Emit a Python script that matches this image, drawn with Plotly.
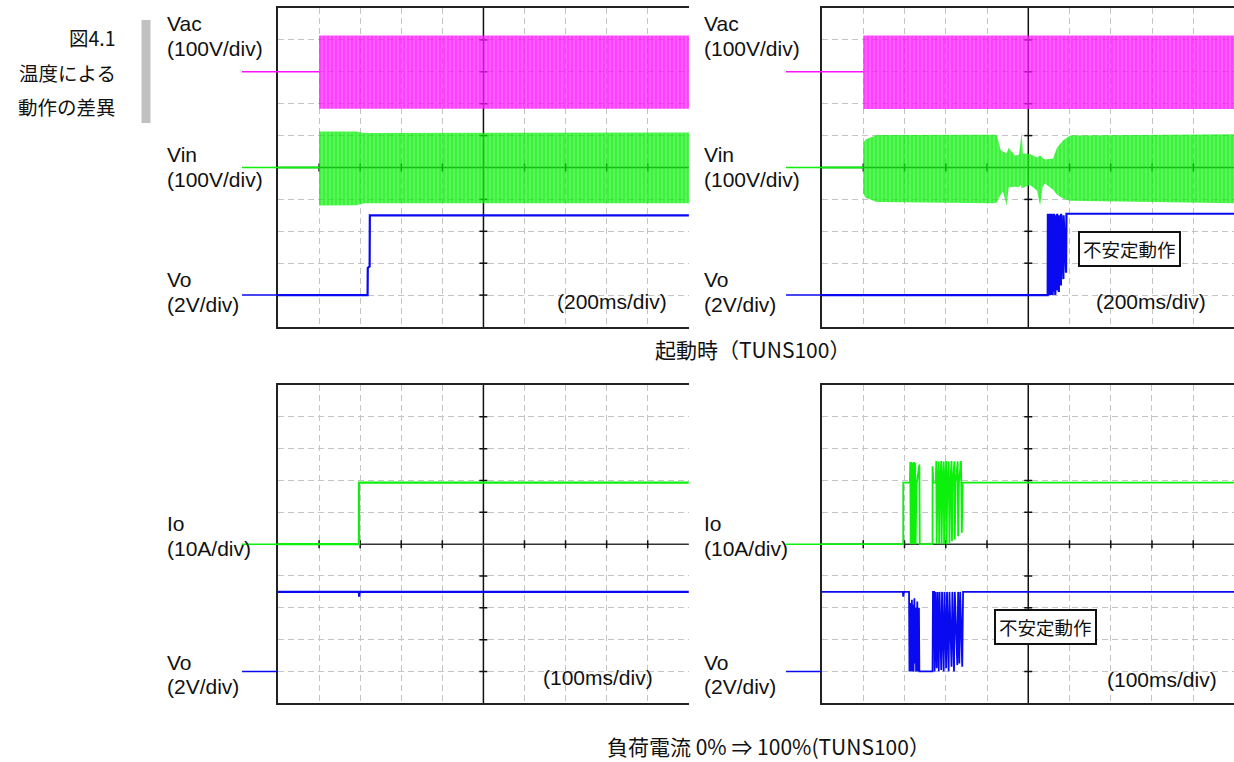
import plotly.graph_objects as go

W, H = 1234, 762

# ---------------- waveform data ----------------
# Start-up (200 ms/div), normal case
vac1_off_t = [0, 200]
vac1_off_v = [0, 0]
vac1_env_t = [200, 2000]
vac1_env_hi = [114, 114]
vac1_env_lo = [-116, -116]

vin1_off_t = [0, 200]
vin1_off_v = [0, 0]
vin1_env_t = [200, 380, 420, 2000]
vin1_env_hi = [113, 113, 108, 110]
vin1_env_lo = [-119, -118, -112, -112]

vo1_t = [0, 436, 437, 446, 447, 2000]
vo1_v = [0, 0, 1.7, 1.8, 5.0, 5.0]

# Start-up (200 ms/div), unstable case
vac2_off_t = [0, 200]
vac2_off_v = [0, 0]
vac2_env_t = [200, 2000]
vac2_env_hi = [114, 114]
vac2_env_lo = [-117, -117]

vin2_off_t = [0, 200]
vin2_off_v = [0, 0]
vin2_env_t = [200, 210, 266, 829, 848, 866, 877, 895, 905, 935, 955, 962, 968, 974,
              1008, 1042, 1057, 1070, 1081, 1120, 1139, 1168, 1202, 2000]
vin2_env_hi = [75, 88, 102, 103, 100, 55, 50, 45, 62, 38, 40, 70, 110, 44,
               42, 31, 38, 30, 25, 28, 62, 85, 100, 104]
vin2_env_lo = [-80, -95, -108, -112, -110, -85, -75, -119, -62, -60, -62, -55, -65, -63,
               -55, -72, -119, -60, -50, -70, -85, -97, -104, -112]

vo2_t = [0, 1094, 1095, 1097, 1098, 1100, 1101, 1103, 1104, 1106, 1107, 1109, 1110, 1113,
         1114, 1118, 1119, 1124, 1125, 1131, 1132, 1139, 1140, 1148, 1149, 1158, 1159,
         1170, 1171, 1183, 1185, 2000]
vo2_v = [0, 0, 5.1, 0, 5.0, 0.1, 5.1, 0, 5.0, 0.1, 5.1, 0, 5.0, 0.1,
         5.1, 0, 5.0, 0.2, 5.1, 0, 5.0, 0.3, 5.1, 0.2, 5.0, 0.6, 5.1,
         1.0, 5.0, 1.4, 5.1, 5.1]

# Load step 0% -> 100% (100 ms/div), normal case
io3_t = [0, 197, 197, 1000]
io3_v = [0, 0, 19.3, 19.3]
vo3_t = [0, 197, 197.5, 199, 1000]
vo3_v = [5.0, 5.0, 4.7, 5.0, 5.0]

# Load step 0% -> 100% (100 ms/div), unstable case
io4_t = [0, 197, 197, 213, 214, 215, 217, 218, 220, 221, 223, 224, 226, 227, 229, 230, 236,
         237, 241, 268, 268, 270, 276, 277, 278, 280, 283, 284, 286, 289, 290, 292, 295,
         296, 298, 301, 302, 304, 307, 309, 311, 314, 315, 317, 321, 322, 324, 329, 330,
         332, 337, 339, 341, 1000]
io4_v = [0, 0, 19.3, 19.3, 25.8, 0, 25.8, 0.2, 25.5, 0, 25.8, 0, 25.6, 0, 19.3, 19.3, 25.0,
         0, 0, 0, 24.5, 19.3, 19.3, 26.1, 0, 19.3, 26.0, 0, 19.3, 26.1, 0, 19.3, 26.0,
         0, 19.3, 26.1, 0, 19.3, 26.0, 0.4, 19.3, 26.1, 0.9, 19.3, 26.0, 1.5, 19.3, 26.0, 2.5,
         19.3, 26.1, 3.6, 19.3, 19.3]
vo4_t = [0, 196, 197, 199, 211, 212, 215, 216, 218, 219, 221, 222, 224, 225, 227, 228, 231,
         232, 235, 236, 241, 268, 269, 272, 273, 275, 278, 280, 283, 285, 289, 291, 295,
         297, 301, 303, 307, 309, 314, 316, 320, 322, 328, 330, 333, 335, 340, 342, 1000]
vo4_v = [5, 5, 4.7, 5, 5, 0, 4.3, 0, 4.5, 0, 4.2, 0, 4.6, 0.5, 4.0, 0, 4.4,
         0, 4.0, 0, 0, 0, 5, 5, 0, 5, 0.2, 5, 0, 5, 0.1, 5, 0,
         5, 0.2, 5, 0, 5, 0.3, 5, 0, 5, 0.4, 5, 0.5, 5, 0.3, 5, 5]

# channel labels
top_labels = [("Vac", "(100V/div)"), ("Vin", "(100V/div)"), ("Vo", "(2V/div)")]
bot_labels = [("Io", "(10A/div)"), ("Vo", "(2V/div)")]
time_top = "(200ms/div)"
time_bot = "(100ms/div)"
title_top = "起動時（TUNS100）"
title_bot = "負荷電流 0% ⇒ 100%(TUNS100）"
side_text = ["図4.1", "温度による", "動作の差異"]
note_text = "不安定動作"

# ---------------- styling ----------------
MAGENTA = "#ff10ff"
GREEN = "#0cf00c"
BLUE = "#0a0af0"
GRID = "#c4c4c4"
AXIS = "#222222"
LATIN = "Liberation Sans, Arial, sans-serif"
CJK = "Noto Sans CJK JP, sans-serif"
MAG_TINT = "rgba(255,16,255,0.6)"
GRN_TINT = "rgba(12,240,12,0.6)"


def xp(px):
    return px / W


def yp(py):
    return 1 - py / H


fig = go.Figure()

# panel geometry (pixels) and axis ids
panels = [
    dict(x="x", y="y", ov=["y2", "y3"], xpx=(278, 689), ypx=(8, 327), xr=2000, step=200),
    dict(x="x2", y="y4", ov=["y5", "y6"], xpx=(822, 1234), ypx=(8, 327),
         xr=2000 * (1234 - 822) / 412.7, step=200),
    dict(x="x3", y="y7", ov=["y8"], xpx=(278, 689), ypx=(385, 703.3), xr=1000, step=100),
    dict(x="x4", y="y9", ov=["y10"], xpx=(822, 1234), ypx=(385, 703.3),
         xr=1000 * (1234 - 822) / 412.7, step=100),
]

# y ranges: base axis is the centre channel (Vin / Io), overlays place the others
yranges = {
    "y": [-500, 500], "y2": [-800, 200], "y3": [-2, 18],
    "y4": [-500, 500], "y5": [-800, 200], "y6": [-2, 18],
    "y7": [-50, 50], "y8": [-2, 18],
    "y9": [-50, 50], "y10": [-2, 18],
}
ydiv = {"y": 100, "y4": 100, "y7": 10, "y9": 10}


def lname(axid):
    return axid[0] + "axis" + axid[1:]


layout_axes = {}
for p in panels:
    xd = [xp(p["xpx"][0]), min(1.0, xp(p["xpx"][1]))]
    yd = [yp(p["ypx"][1]), yp(p["ypx"][0])]
    layout_axes[lname(p["x"])] = dict(
        domain=xd, range=[0, p["xr"] + 0.5], anchor=p["y"], dtick=p["step"], tick0=0,
        showgrid=True, gridcolor=GRID, griddash="6px,4px", gridwidth=1.2,
        showline=True, mirror=True, linecolor=AXIS, linewidth=1.5,
        ticks="", showticklabels=False, zeroline=False, fixedrange=True)
    layout_axes[lname(p["y"])] = dict(
        domain=yd, range=yranges[p["y"]], anchor=p["x"], dtick=ydiv[p["y"]], tick0=0,
        showgrid=True, gridcolor=GRID, griddash="6px,4px", gridwidth=1.2,
        showline=True, mirror=False, linecolor=AXIS, linewidth=1.5,
        ticks="", showticklabels=False, zeroline=False, fixedrange=True)
    for ov in p["ov"]:
        layout_axes[lname(ov)] = dict(
            overlaying=p["y"], anchor=p["x"], range=yranges[ov], visible=False,
            showgrid=False, zeroline=False, fixedrange=True)


def band(t, hi, lo, color, tint, xa, ya):
    """AC waveform drawn as its envelope, filled with vertical strokes."""
    fig.add_trace(go.Scatter(
        x=list(t) + list(t)[::-1], y=list(hi) + list(lo)[::-1],
        xaxis=xa, yaxis=ya, mode="lines", line=dict(width=0, color=color),
        fill="toself", fillcolor=tint,
        fillpattern=dict(shape="|", size=4, solidity=0.7, fgcolor=color, bgcolor=tint),
        hoverinfo="skip", showlegend=False))


def trace(t, v, color, xa, ya, width=2):
    fig.add_trace(go.Scatter(
        x=t, y=v, xaxis=xa, yaxis=ya, mode="lines",
        line=dict(color=color, width=width), hoverinfo="skip", showlegend=False))


# top-left
trace(vac1_off_t, vac1_off_v, MAGENTA, "x", "y2", 1.5)
band(vac1_env_t, vac1_env_hi, vac1_env_lo, MAGENTA, MAG_TINT, "x", "y2")
trace(vin1_off_t, vin1_off_v, GREEN, "x", "y", 2)
band(vin1_env_t, vin1_env_hi, vin1_env_lo, GREEN, GRN_TINT, "x", "y")
trace(vo1_t, vo1_v, BLUE, "x", "y3", 2.2)

# top-right
trace(vac2_off_t, vac2_off_v, MAGENTA, "x2", "y5", 1.5)
band(vac2_env_t, vac2_env_hi, vac2_env_lo, MAGENTA, MAG_TINT, "x2", "y5")
trace(vin2_off_t, vin2_off_v, GREEN, "x2", "y4", 2)
band(vin2_env_t, vin2_env_hi, vin2_env_lo, GREEN, GRN_TINT, "x2", "y4")
trace(vo2_t, vo2_v, BLUE, "x2", "y6", 2.2)

# bottom-left
trace(io3_t, io3_v, GREEN, "x3", "y7", 2.2)
trace(vo3_t, vo3_v, BLUE, "x3", "y8", 2.2)

# bottom-right
trace(io4_t, io4_v, GREEN, "x4", "y9", 1.8)
trace(vo4_t, vo4_v, BLUE, "x4", "y10", 1.8)

# ---------------- centre cross with division ticks ----------------
shapes = []
for p in panels:
    xa, ya = p["x"], p["y"]
    y0, y1 = yranges[ya]
    dy = ydiv[ya]
    xc = 5 * p["step"]
    yc = (y0 + y1) / 2
    shapes.append(dict(type="line", xref=xa, yref=ya, x0=xc, x1=xc, y0=y0, y1=y1,
                       line=dict(color="#111111", width=1.5), layer="between"))
    shapes.append(dict(type="line", xref=xa, yref=ya, x0=0, x1=p["xr"], y0=yc, y1=yc,
                       line=dict(color="#333333", width=1.5), layer="between"))
    for k in range(1, 10):
        if k == 5:
            continue
        shapes.append(dict(type="line", xref=xa, yref=ya, xsizemode="pixel", xanchor=xc,
                           x0=-4, x1=4, y0=y0 + k * dy, y1=y0 + k * dy,
                           line=dict(color="#111111", width=1.5), layer="between"))
        shapes.append(dict(type="line", xref=xa, yref=ya, ysizemode="pixel", yanchor=yc,
                           y0=-4, y1=4, x0=k * p["step"], x1=k * p["step"],
                           line=dict(color="#111111", width=1.5), layer="between"))

# channel ground markers left of each panel
markers = [
    ("y2", 242, 278, MAGENTA), ("y", 242, 278, GREEN), ("y3", 242, 278, BLUE),
    ("y5", 786, 822, MAGENTA), ("y4", 786, 822, GREEN), ("y6", 786, 822, BLUE),
    ("y7", 242, 278, GREEN), ("y8", 242, 278, BLUE),
    ("y9", 786, 822, GREEN), ("y10", 786, 822, BLUE),
]
for ya, xa0, xa1, col in markers:
    shapes.append(dict(type="line", xref="paper", yref=ya, x0=xp(xa0), x1=xp(xa1),
                       y0=0, y1=0, line=dict(color=col, width=1.5)))

# side bar
shapes.append(dict(type="rect", xref="paper", yref="paper", x0=xp(141.5), x1=xp(150.5),
                   y0=yp(123), y1=yp(20), fillcolor="#c0c0c0", line=dict(width=0)))

# ---------------- text ----------------
ann = []


def text(s, x, y, size=21, family=LATIN, xanchor="left", **kw):
    ann.append(dict(text=s, x=xp(x), y=yp(y), xref="paper", yref="paper",
                    xanchor=xanchor, yanchor="middle", showarrow=False,
                    font=dict(family=family, size=size, color="#111111"), **kw))


for lx in (165, 702):
    for (name, scale), (ny, sy) in zip(top_labels, [(24, 48), (154, 179), (280, 304)]):
        text(name, lx, ny)
        text(scale, lx, sy)
    for (name, scale), (ny, sy) in zip(bot_labels, [(523, 548), (662, 686)]):
        text(name, lx, ny)
        text(scale, lx, sy)

text(time_top, 612, 301, xanchor="center")
text(time_top, 1151, 301, xanchor="center")
text(time_bot, 598, 677, xanchor="center")
text(time_bot, 1162, 679, xanchor="center")

text(title_top, 752, 349, size=21, family=CJK, xanchor="center")
text(title_bot, 768, 746, size=21, family=CJK, xanchor="center")

for s, y in zip(side_text, [38, 73, 106]):
    text(s, 118, y, size=19.5, family=CJK, xanchor="right")

for cx, cy in [(1129, 248.5), (1045.5, 627)]:
    ann.append(dict(text=note_text, x=xp(cx), y=yp(cy), xref="paper", yref="paper",
                    xanchor="center", yanchor="middle", showarrow=False,
                    font=dict(family=CJK, size=18.5, color="#111111"),
                    bgcolor="white", bordercolor="#111111", borderwidth=2, borderpad=3))

fig.update_layout(
    width=W, height=H, margin=dict(l=0, r=0, t=0, b=0),
    paper_bgcolor="white", plot_bgcolor="white",
    showlegend=False, shapes=shapes, annotations=ann, **layout_axes)

fig.write_html("out.html")
